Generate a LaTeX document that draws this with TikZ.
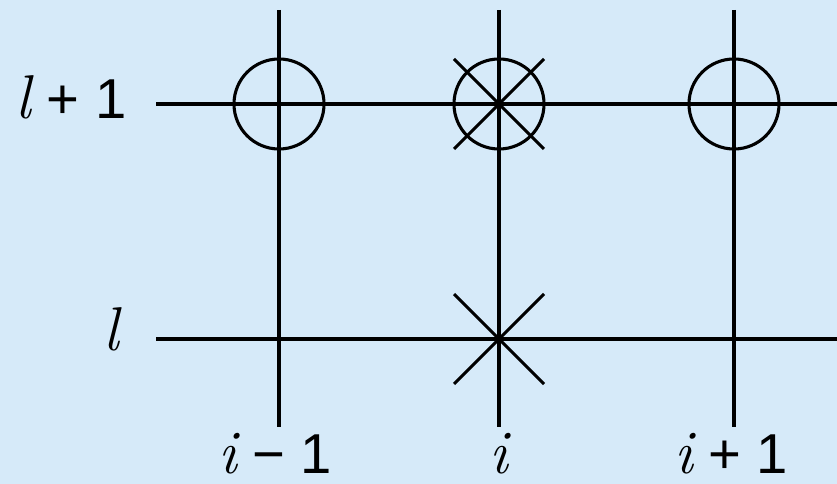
\documentclass[tikz,border=0pt]{standalone}
\usepackage{fontspec}
\setsansfont{Liberation Sans}
\usetikzlibrary{positioning}
\definecolor{paleblue}{RGB}{214,234,249}
\newcommand{\lvar}[1]{{\rmfamily\itshape\fontsize{44}{48}\selectfont #1}}

\begin{document}
\begin{tikzpicture}[x=0.025cm, y=-0.025cm,
    gridLine/.style={line width=2.2pt, draw=black},
    ringMark/.style={line width=2.2pt, draw=black},
    crossMark/.style={line width=2.2pt, draw=black},
    labelText/.style={inner sep=0pt, font=\sffamily\fontsize{40}{44}\selectfont}
]
    \def\markR{1.125cm}

    % Sfondo e riquadro
    \fill[paleblue] (0,0) rectangle (837,484);
    \useasboundingbox (0,0) rectangle (837,484);

    % Estremi delle linee della griglia
    \coordinate (rowTopW) at (156,104);
    \coordinate (rowTopE) at (837,104);
    \coordinate (rowBotW) at (156,339);
    \coordinate (rowBotE) at (837,339);
    \coordinate (colAN) at (279,10);
    \coordinate (colAS) at (279,427);
    \coordinate (colBN) at (499,10);
    \coordinate (colBS) at (499,427);
    \coordinate (colCN) at (734,10);
    \coordinate (colCS) at (734,427);

    % Incroci
    \coordinate (upA) at (279,104);
    \coordinate (upB) at (499,104);
    \coordinate (upC) at (734,104);
    \coordinate (lowB) at (499,339);

    % Linee della griglia
    \draw[gridLine] (rowTopW) -- (rowTopE);
    \draw[gridLine] (rowBotW) -- (rowBotE);
    \draw[gridLine] (colAN) -- (colAS);
    \draw[gridLine] (colBN) -- (colBS);
    \draw[gridLine] (colCN) -- (colCS);

    % Cerchi sul livello l+1
    \draw[ringMark] (upA) circle (\markR);
    \draw[ringMark] (upB) circle (\markR);
    \draw[ringMark] (upC) circle (\markR);

    % Croci sulla colonna i
    \draw[crossMark] (upB) ++(-45,-45) -- ++(90,90);
    \draw[crossMark] (upB) ++(-45,45) -- ++(90,-90);
    \draw[crossMark] (lowB) ++(-45,-45) -- ++(90,90);
    \draw[crossMark] (lowB) ++(-45,45) -- ++(90,-90);

    % Etichette dei livelli
    \node[labelText, anchor=base east] (lblTop) at (127,119) {\lvar{l}\ + 1};
    \node[labelText, anchor=base east] (lblBot) at (119,351) {\lvar{l}};

    % Etichette delle colonne
    \node[labelText, anchor=base] (lblA) at (275,474) {\lvar{i}\ − 1};
    \node[labelText, anchor=base] (lblB) at (499,474) {\lvar{i}};
    \node[labelText, anchor=base] (lblC) at (731,474) {\lvar{i}\ + 1};
\end{tikzpicture}
\end{document}
